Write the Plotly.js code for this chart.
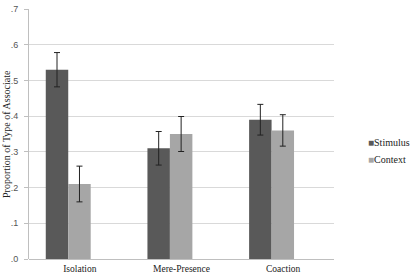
<!DOCTYPE html>
<html>
<head>
<meta charset="utf-8">
<script src="https://cdn.plot.ly/plotly-3.0.1.min.js"></script>
<style>html,body{margin:0;padding:0;background:#fff;}#chart{width:411px;height:276px;}</style>
</head>
<body>
<div id="chart"></div>
<script>
var categories = ["Isolation", "Mere-Presence", "Coaction"];
var stimulusValues = [0.53, 0.31, 0.39];
var stimulusErrors = [0.048, 0.047, 0.043];
var contextValues = [0.21, 0.35, 0.36];
var contextErrors = [0.05, 0.049, 0.044];
var yTickVals = [0, 0.1, 0.2, 0.3, 0.4, 0.5, 0.6, 0.7];
var yTickText = [".0", ".1", ".2", ".3", ".4", ".5", ".6", ".7"];
var seriesNames = ["Stimulus", "Context"];

var darkColor = "#595959", lightColor = "#a6a6a6";
var errStyle = {type: "data", visible: true, color: "#222", thickness: 1, width: 3};

var traces = [
  {type: "bar", name: seriesNames[0], x: categories, y: stimulusValues,
   offset: -0.335, width: 0.221, marker: {color: darkColor, line: {width: 0}},
   error_y: Object.assign({array: stimulusErrors}, errStyle), showlegend: false},
  {type: "bar", name: seriesNames[1], x: categories, y: contextValues,
   offset: -0.114, width: 0.221, marker: {color: lightColor, line: {width: 0}},
   error_y: Object.assign({array: contextErrors}, errStyle), showlegend: false}
];

var serif = "'Liberation Serif', serif";
var layout = {
  width: 411, height: 276,
  margin: {l: 29, r: 77, t: 9, b: 17, pad: 0},
  paper_bgcolor: "#fff", plot_bgcolor: "#fff",
  barmode: "overlay",
  showlegend: false,
  font: {family: serif, size: 10, color: "#222"},
  xaxis: {
    type: "category", range: [-0.5, 2.5],
    showgrid: false, zeroline: false, showline: false,
    ticks: "", tickfont: {family: serif, size: 9.5, color: "#222"},
    ticklabelstandoff: 2
  },
  yaxis: {
    range: [0, 0.7], tickvals: yTickVals, ticktext: yTickText,
    showgrid: true, gridcolor: "#d9d9d9", gridwidth: 1,
    zeroline: true, zerolinecolor: "#bfbfbf", zerolinewidth: 1,
    showline: true, linecolor: "#bfbfbf", linewidth: 1,
    ticks: "outside", ticklen: 4, tickcolor: "#bfbfbf",
    tickfont: {family: "'Liberation Sans', sans-serif", size: 9, color: "#555"},
    ticklabelstandoff: 4
  },
  annotations: [
    {text: "Proportion of Type of Associate", textangle: -90, xref: "paper", yref: "paper",
     x: 0, y: 0.5, xanchor: "center", yanchor: "middle", xshift: -23, showarrow: false,
     font: {family: serif, size: 10, color: "#222"}},
    {text: "<span style='color:" + darkColor + "'>■</span>" + seriesNames[0], xref: "paper", yref: "paper",
     x: 1, y: 0.5, xanchor: "left", yanchor: "middle", xshift: 32, yshift: -8, showarrow: false,
     font: {family: serif, size: 10, color: "#222"}},
    {text: "<span style='color:" + lightColor + "'>■</span>" + seriesNames[1], xref: "paper", yref: "paper",
     x: 1, y: 0.5, xanchor: "left", yanchor: "middle", xshift: 32, yshift: -25, showarrow: false,
     font: {family: serif, size: 10, color: "#222"}}
  ]
};

Plotly.newPlot("chart", traces, layout, {displayModeBar: false, staticPlot: true});
</script>
</body>
</html>
